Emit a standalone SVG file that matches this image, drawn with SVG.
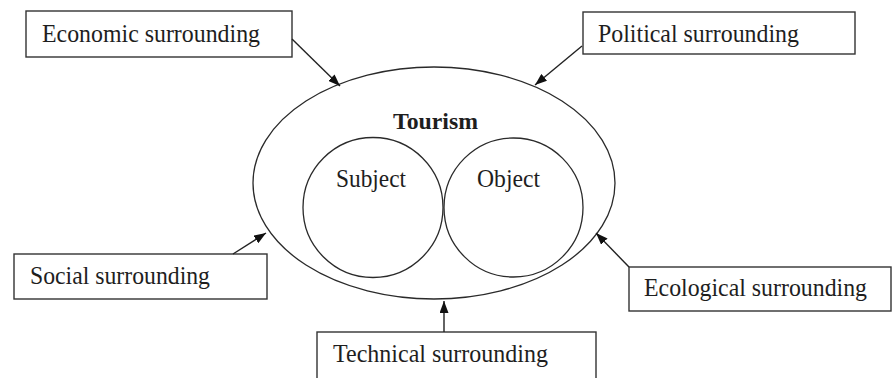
<svg xmlns="http://www.w3.org/2000/svg" width="893" height="378" viewBox="0 0 893 378">
  <style>
    .box { fill: #ffffff; stroke: #333333; stroke-width: 1.4; }
    .ring { fill: none; stroke: #2a2a2a; stroke-width: 1.3; }
    .label { font-family: "Liberation Serif", "Times New Roman", serif; font-size: 25px; fill: #1e1e1e; }
    .title { font-family: "Liberation Serif", "Times New Roman", serif; font-size: 24px; font-weight: bold; fill: #1e1e1e; }
    .link { stroke: #222222; stroke-width: 1.4; fill: none; marker-end: url(#head); }
  </style>
  <defs>
    <marker id="head" viewBox="0 0 12 9" refX="12" refY="4.5" markerWidth="12" markerHeight="9" markerUnits="userSpaceOnUse" orient="auto">
      <path d="M0,0 L12,4.5 L0,9 Z" fill="#111111"/>
    </marker>
  </defs>
  <rect width="893" height="378" fill="#ffffff"/>

  <!-- central tourism system -->
  <g id="tourism">
    <ellipse class="ring" cx="434" cy="183" rx="181" ry="116"/>
    <text class="title" x="393" y="129" textLength="85" lengthAdjust="spacingAndGlyphs">Tourism</text>
  </g>
  <g id="subject">
    <circle class="ring" cx="373" cy="207.5" r="70"/>
    <text class="label" x="336" y="187" textLength="70" lengthAdjust="spacingAndGlyphs">Subject</text>
  </g>
  <g id="object">
    <circle class="ring" cx="513.5" cy="207.5" r="69.5"/>
    <text class="label" x="477" y="187" textLength="63" lengthAdjust="spacingAndGlyphs">Object</text>
  </g>

  <!-- surrounding environments -->
  <g id="economic">
    <rect class="box" x="26" y="11" width="266" height="46"/>
    <text class="label" x="42" y="42" textLength="218" lengthAdjust="spacingAndGlyphs">Economic surrounding</text>
  </g>
  <g id="political">
    <rect class="box" x="583" y="12" width="272" height="42"/>
    <text class="label" x="598" y="42" textLength="201" lengthAdjust="spacingAndGlyphs">Political surrounding</text>
  </g>
  <g id="social">
    <rect class="box" x="14" y="254" width="253" height="45"/>
    <text class="label" x="30" y="284" textLength="180" lengthAdjust="spacingAndGlyphs">Social surrounding</text>
  </g>
  <g id="technical">
    <rect class="box" x="317" y="332" width="279" height="60"/>
    <text class="label" x="333" y="362" textLength="215" lengthAdjust="spacingAndGlyphs">Technical surrounding</text>
  </g>
  <g id="ecological">
    <rect class="box" x="629" y="267" width="262" height="44"/>
    <text class="label" x="644" y="296" textLength="223" lengthAdjust="spacingAndGlyphs">Ecological surrounding</text>
  </g>

  <!-- influence arrows -->
  <g id="connectors">
    <line class="link" x1="292" y1="39" x2="340" y2="86"/>
    <line class="link" x1="582" y1="46" x2="535" y2="85"/>
    <line class="link" x1="233" y1="254" x2="266" y2="233"/>
    <line class="link" x1="444" y1="332" x2="444" y2="301"/>
    <line class="link" x1="629" y1="267" x2="596" y2="233"/>
  </g>
</svg>
